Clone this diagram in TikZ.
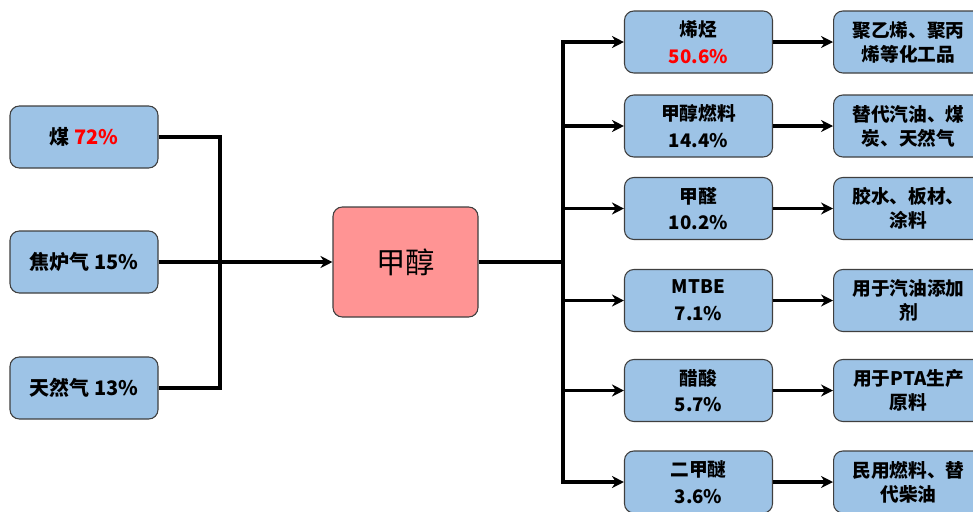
\documentclass[tikz,border=0pt]{standalone}
\usepackage{fontspec}
\setmainfont{Noto Sans CJK SC}
\usepackage{xcolor}
\usetikzlibrary{arrows.meta}
\definecolor{boxblue}{HTML}{9DC3E6}
\definecolor{boxpink}{HTML}{FF9494}
\definecolor{boxline}{HTML}{3F3F3F}
\tikzset{
 box/.style={draw=boxline,fill=boxblue,rounded corners=7pt,line width=0.8pt,
  minimum width=111pt,minimum height=46.5pt,align=center,
  font=\fontsize{14}{20}\selectfont\bfseries},
 usebox/.style={box,anchor=west,minimum width=112.5pt,font=\fontsize{14}{18}\selectfont\bfseries},
 link/.style={line width=2.6pt},
 arr/.style={link,-{Stealth[length=9pt,width=9pt]}}
}
\begin{document}
\begin{tikzpicture}[x=0.75pt,y=-0.75pt]
 \useasboundingbox (0,0) rectangle (973,511);
 \clip (0,0) rectangle (973,511);
 \node[box,font=\fontsize{15}{20}\selectfont\bfseries] (coal) at (84,137) {煤 \textcolor{red}{72\%}};
 \node[box,font=\fontsize{15}{20}\selectfont\bfseries] (coke) at (84,262) {焦炉气 15\%};
 \node[box,font=\fontsize{15}{20}\selectfont\bfseries] (gas) at (84,388) {天然气 13\%};
 \node[box,fill=boxpink,minimum width=108.75pt,minimum height=82.5pt,
  font=\fontsize{22}{26}\selectfont] (meth) at (405.5,262) {甲醇};
 \node[box] (olefin) at (698.5,42) {烯烃\\\textcolor{red}{50.6\%}};
 \node[box] (fuel) at (698.5,126) {甲醇燃料\\14.4\%};
 \node[box] (formal) at (698.5,208.5) {甲醛\\10.2\%};
 \node[box] (mtbe) at (698.5,300.5) {MTBE\\7.1\%};
 \node[box] (acetic) at (698.5,390.5) {醋酸\\5.7\%};
 \node[box] (dme) at (698.5,482) {二甲醚\\3.6\%};
 \node[usebox] (polymer) at (833,42) {聚乙烯、聚丙\\烯等化工品};
 \node[usebox] (subst) at (833,126) {替代汽油、煤\\炭、天然气};
 \node[usebox] (glue) at (833,208.5) {胶水、板材、\\涂料};
 \node[usebox] (additive) at (833,300.5) {用于汽油添加\\剂};
 \node[usebox] (pta) at (833,390.5) {用于PTA生产\\原料};
 \node[usebox] (civil) at (833,482) {民用燃料、替\\代柴油};
 \coordinate (L) at (220,0);
 \coordinate (R) at (563,0);
 \draw[link] (coal.east) -| (L |- gas.east) -- (gas.east);
 \draw[arr] (coke.east) -- (meth.west);
 \draw[link] (meth.east) -- (meth.east -| R);
 \draw[link,line cap=rect] (olefin.west -| R) -- (dme.west -| R);
 \foreach \a/\b in {olefin/polymer,fuel/subst,formal/glue,mtbe/additive,acetic/pta,dme/civil}{
  \draw[arr] (\a.west -| R) -- (\a.west);
  \draw[arr] (\a.east) -- (\b.west);
 }
\end{tikzpicture}
\end{document}
